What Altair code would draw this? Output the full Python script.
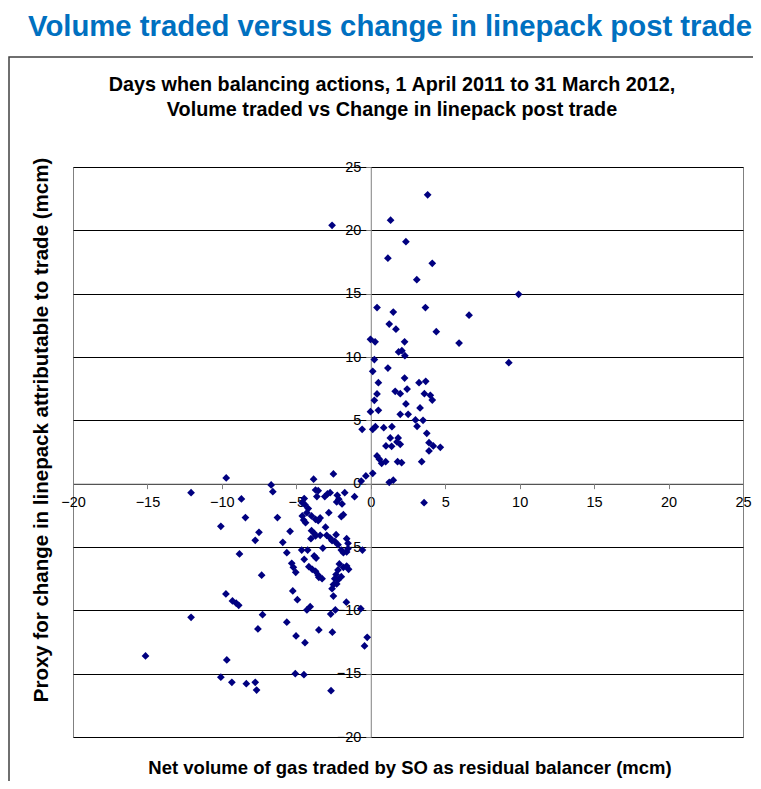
import altair as alt
import pandas as pd

# ---- data (mcm) ----
net_volume = [
    3.82, 1.33, 2.36, 1.15, 4.13, 3.09, 9.93, 0.42, 1.51, 3.67, 6.6, 1.24, 1.69, 4.4,
    -0.02, 0.29, 2.27, 5.93, 1.87, 2.09, 2.29, 0.24, 9.27, 0.13, 1.15, 0.51, 2.27, 3.24,
    3.69, 0.42, 1.64, 1.98, 2.44, 3.6, 4.0, 4.13, 0.24, 2.36, 3.31, -0.02, 0.51, 1.98,
    2.51, 3.0, 3.51, 3.11, 3.76, -0.58, 0.13, 0.31, 0.87, 1.42, 1.31, 1.84, 1.76, 1.98,
    1.02, 1.4, 3.91, 4.2, 4.67, 3.91, 0.42, 0.58, 0.73, 1.0, 1.8, 2.07, 3.42, 0.13,
    -0.33, -0.64, 1.24, 1.51, 3.58,
    -2.6, -2.51, -3.84, -9.71,
    -6.69, -6.58, -12.07, -8.69, -8.42, -10.07, -6.27, -5.42, -7.51, -7.76, -5.91, -5.64,
    -8.82, -5.31, -5.2, -5.04, -7.33, -5.24, -4.93, -9.73, -9.29, -9.04, -8.87, -7.27,
    -12.07, -5.64, -7.58, -5.02, -4.42, -3.49, -2.58, -4.29, -4.07, -2.69, -2.38, -1.64,
    -0.67, -0.24, -0.42, -15.13, -9.67, -10.07, -9.33, -8.36, -7.76, -7.67, -5.07, -4.49,
    -2.67,
    -3.71, -3.53, -3.62, -3.09, -2.91, -2.73, -2.25, -1.75, -2.29, -1.93, -1.09, -2.15,
    -4.47, -4.6, -4.42, -4.2, -4.29, -4.6, -4.51, -4.38, -3.98, -3.71, -3.53, -3.4,
    -2.82, -1.98, -1.84, -3.98, -3.8, -3.04, -4.02, -3.71, -3.4, -2.96, -2.73, -2.6,
    -2.33, -2.42, -2.2, -1.62, -1.53, -1.98, -1.84, -1.62, -1.53, -0.56, -3.22, -4.64,
    -4.24, -4.47, -3.8, -3.67, -4.16, -3.93, -3.71, -3.53, -3.27, -3.49, -2.11, -1.84,
    -1.62, -1.49, -2.2, -2.33, -2.42, -2.2, -1.98, -2.51, -2.29, -2.6, -2.51,
]
linepack_change = [
    22.8, 20.8, 19.1, 17.8, 17.4, 16.1, 14.95, 13.9, 13.55, 13.9, 13.3, 12.6, 12.2, 12.0,
    11.4, 11.2, 11.2, 11.1, 10.4, 10.5, 10.1, 9.8, 9.55, 8.87, 9.13, 7.97, 8.34, 7.97,
    8.08, 7.08, 7.29, 7.1, 7.47, 7.1, 6.98, 6.6, 6.58, 6.29, 5.98, 5.68, 5.79, 5.48,
    5.48, 5.03, 5.0, 4.53, 3.98, 4.29, 4.29, 4.5, 4.42, 4.5, 3.61, 3.61, 3.29, 3.11,
    2.98, 2.95, 3.24, 2.98, 2.87, 2.58, 2.19, 1.93, 1.61, 1.74, 1.74, 1.66, 1.74, 0.82,
    0.61, 0.21, 0.11, 0.27, -1.5,
    20.4, 0.77, 0.35, 0.45,
    -0.1, -0.63, -0.71, -1.21, -2.68, -3.37, -2.68, -3.76, -3.84, -4.47, -4.63, -5.45,
    -5.55, -6.29, -6.6, -7.0, -7.23, -8.47, -9.16, -8.71, -9.26, -9.44, -9.6, -10.34,
    -10.55, -10.94, -11.47, -12.02, -12.55, -11.55, -11.73, -9.97, -9.71, -10.29, -9.97, -9.36,
    -9.87, -12.13, -12.81, -13.6, -13.92, -15.28, -15.68, -15.79, -15.68, -16.29, -15.0, -15.08,
    -16.34,
    -0.5, -0.55, -1.02, -1.02, -0.81, -0.71, -0.92, -0.71, -1.44, -1.6, -1.03, -1.23,
    -1.18, -1.5, -1.66, -1.97, -2.29, -2.55, -2.87, -3.08, -2.55, -2.81, -2.92, -2.71,
    -2.29, -2.6, -2.45, -3.71, -3.92, -3.44, -4.34, -4.13, -4.08, -4.08, -4.29, -4.5,
    -4.03, -4.55, -4.82, -4.34, -4.71, -5.24, -5.45, -5.39, -5.13, -5.24, -5.08, -5.24,
    -5.24, -5.97, -5.71, -5.87, -6.55, -6.76, -6.92, -7.23, -7.5, -7.39, -6.34, -6.6,
    -6.5, -6.76, -6.81, -7.18, -7.5, -7.6, -7.34, -7.97, -7.92, -8.29, -8.87,
]
axis_ticks = [-20, -15, -10, -5, 0, 5, 10, 15, 20, 25]

main_title = "Volume traded versus change in linepack post trade"
sub_title = [
    "Days when balancing actions, 1 April 2011 to 31 March 2012,",
    "Volume traded vs Change in linepack post trade",
]
x_title = "Net volume of gas traded by SO as residual balancer (mcm)"
y_title = "Proxy for change in linepack attributable to trade (mcm)"

FONT = "Liberation Sans"
W, H = 670, 570

df = pd.DataFrame({"x": net_volume, "y": linepack_change})

xscale = alt.Scale(domain=[-20, 25], nice=False, zero=False)
yscale = alt.Scale(domain=[-20, 25], nice=False, zero=False)

# plot area pixel position of value 0
y0_px = H * 25 / 45
x0_px = W * 20 / 45

points = alt.Chart(df).mark_point(
    shape="diamond", filled=True, color="#000080", size=60, opacity=1
).encode(
    x=alt.X("x:Q", scale=xscale, axis=alt.Axis(
        values=axis_ticks, title=None, grid=False, offset=-(H - y0_px),
        labelFlush=False, tickSize=5, labelPadding=7, format="d",
        labelFont=FONT, labelFontSize=14.5, labelColor="#000000",
        domainColor="#808080", tickColor="#808080")),
    y=alt.Y("y:Q", scale=yscale, axis=alt.Axis(
        values=axis_ticks, title=None, grid=True, offset=-x0_px,
        gridColor="#000000", gridOpacity=1, gridWidth=1,
        tickSize=5, labelPadding=5, format="d",
        labelFont=FONT, labelFontSize=14.5, labelColor="#000000",
        domainColor="#808080", tickColor="#808080")),
)

one = pd.DataFrame({"a": [0]})

frame = alt.Chart(one).mark_rect(
    fillOpacity=0, stroke="#404040", strokeWidth=1.5
).encode(x=alt.value(-64), x2=alt.value(720), y=alt.value(-110), y2=alt.value(680))

def label(text, x, y, size, color="#000000", angle=0, baseline="alphabetic"):
    return alt.Chart(pd.DataFrame({"t": [text]})).mark_text(
        font=FONT, fontSize=size, fontWeight="bold", color=color,
        align="center", baseline=baseline, angle=angle
    ).encode(x=alt.value(x), y=alt.value(y), text="t:N")

layers = [
    frame,
    points,
    label(main_title, 317, -131, 29.3, color="#0070C0"),
    label(sub_title[0], 319, -76, 19.8),
    label(sub_title[1], 319, -51, 19.8),
    label(x_title, 337, 601, 18.5, baseline="middle"),
    label(y_title, -31, 263, 20.5, angle=270, baseline="middle"),
]

chart = alt.layer(*layers).properties(
    width=W, height=H,
    autosize=alt.AutoSizeParams(type="none"),
    padding={"left": 65, "top": 159, "right": 10, "bottom": 44},
).configure_view(
    stroke="#808080", strokeWidth=1
)

chart.save("out.html", embed_options={"renderer": "svg", "actions": False})
